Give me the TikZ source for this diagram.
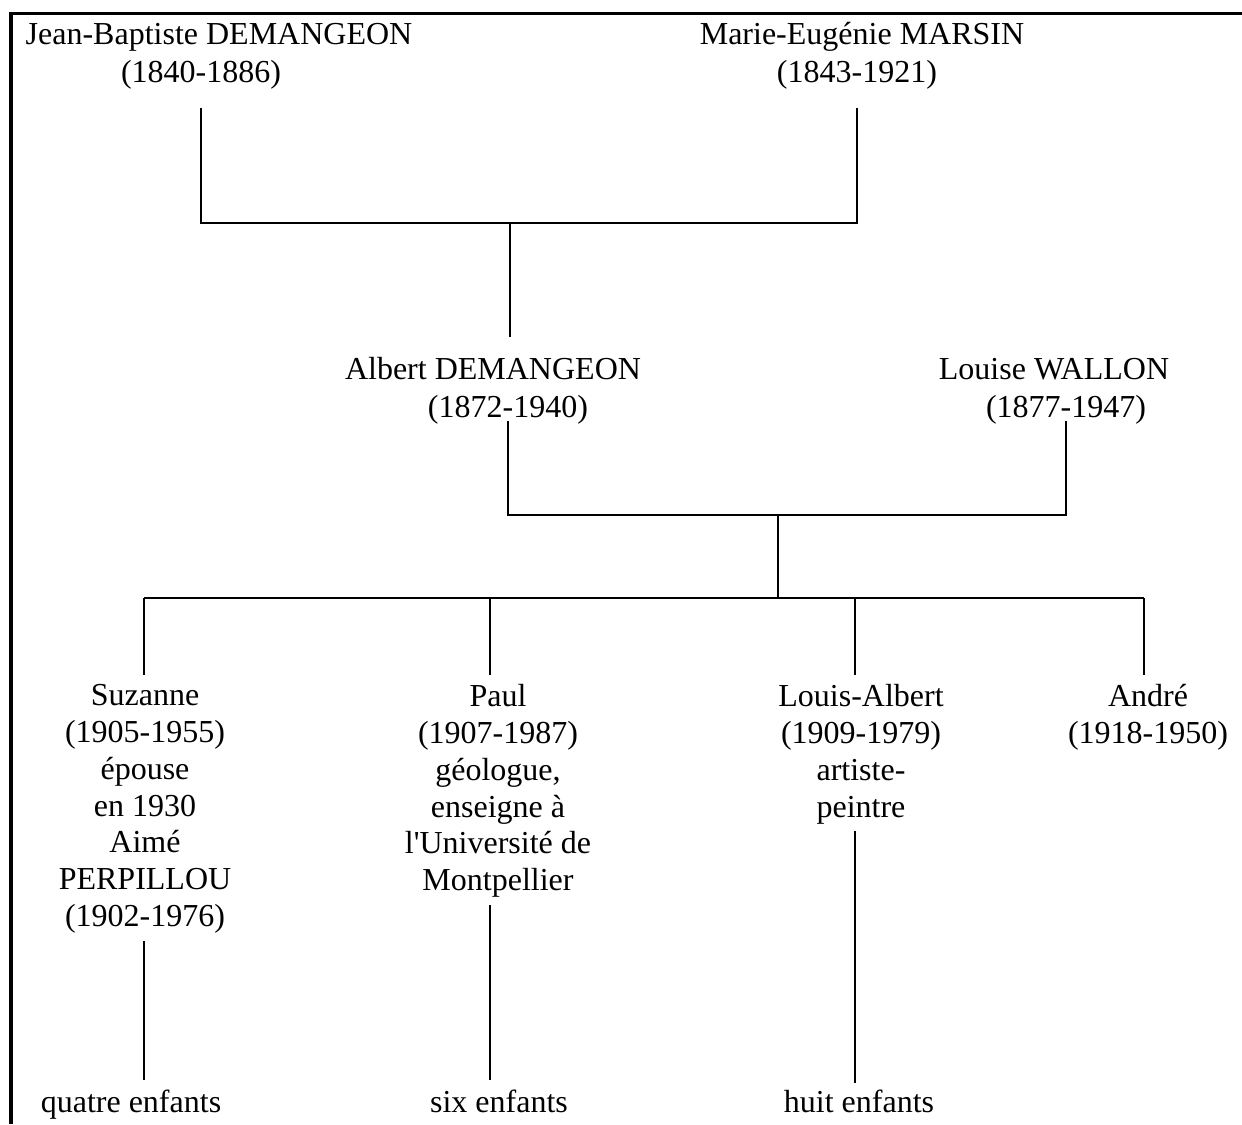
\documentclass[tikz,border=0pt]{standalone}
\usepackage{fontspec}
\setmainfont{Liberation Serif}[Ligatures=TeXOff]
\usepackage{tikz}
\usetikzlibrary{positioning}
\tikzstyle{pers}=[%
      align=center, inner sep=0pt, anchor=north,
      font=\fontsize{12}{13.8}\selectfont,
      execute at begin node=\strut, execute at end node=\strut
]
\tikzstyle{kin}=[draw=black, line width=0.7pt]
\tikzstyle{frame}=[draw=black, line width=1.2pt]

\begin{document}
\begin{tikzpicture}[x=0.375pt, y=-0.375pt]
    \useasboundingbox (0,0) rectangle (1242,1124);
    \draw[frame] (1242,13.5) -| (11,1124);

    % grands-parents
    \node[pers] (jb) at (219,18) {Jean-Baptiste DEMANGEON};
    \node[pers, below=0pt of jb, xshift=-6.75pt] (jbd) {(1840-1886)};
    \node[pers] (ms) at (862,18) {Marie-Eug\'enie MARSIN};
    \node[pers, below=0pt of ms, xshift=-1.9pt] (msd) {(1843-1921)};

    % parents
    \node[pers] (al) at (493,353) {Albert DEMANGEON};
    \node[pers, below=0pt of al, xshift=5.6pt] (ald) {(1872-1940)};
    \node[pers] (lw) at (1054,353) {Louise WALLON};
    \node[pers, below=0pt of lw, xshift=4.5pt] (lwd) {(1877-1947)};

    % enfants
    \node[pers] (suz) at (145,684) {Suzanne\\(1905-1955)\\\'epouse\\en 1930\\Aim\'e\\PERPILLOU\\(1902-1976)};
    \node[pers] (paul) at (498,684) {Paul\\(1907-1987)\\g\'eologue,\\enseigne \`a\\l'Universit\'e de\\Montpellier};
    \node[pers] (la) at (861,684) {Louis-Albert\\(1909-1979)\\artiste-\\peintre};
    \node[pers] (and) at (1148,684) {Andr\'e\\(1918-1950)};

    % petits-enfants
    \node[pers] (suzk) at (131,1086) {quatre enfants};
    \node[pers] (paulk) at (499,1086) {six enfants};
    \node[pers] (lak) at (859,1086) {huit enfants};

    \coordinate (m1) at (510,223);
    \coordinate (m2) at (778,515);
    \coordinate (m3) at (778,598);
    \coordinate (bs) at (144,598);
    \coordinate (bp) at (490,598);
    \coordinate (bl) at (855,598);
    \coordinate (ba) at (1144,598);

    \draw[kin, shorten <=5.2pt] (jbd.south) |- (m1);
    \draw[kin, shorten <=5.2pt] (msd.south) |- (m1);
    \draw[kin, shorten >=6pt] (m1) -- (m1 |- al.north);
    \draw[kin, shorten <=-3pt] (ald.south) |- (m2);
    \draw[kin, shorten <=-3pt] (lwd.south) |- (m2);
    \draw[kin] (m2) -- (m3);
    \draw[kin] (bs) -- (ba);
    \foreach \b/\c in {bs/suz, bp/paul, bl/la, ba/and}
        \draw[kin, shorten >=3.5pt] (\b) -- (\b |- \c.north);
    \draw[kin, shorten <=1pt, shorten >=2.3pt] (bs |- suz.south) -- (bs |- suzk.north);
    \draw[kin, shorten <=1pt, shorten >=2.3pt] (bp |- paul.south) -- (bp |- paulk.north);
    \draw[kin, shorten <=1pt, shorten >=1.2pt] (bl |- la.south) -- (bl |- lak.north);
\end{tikzpicture}
\end{document}
